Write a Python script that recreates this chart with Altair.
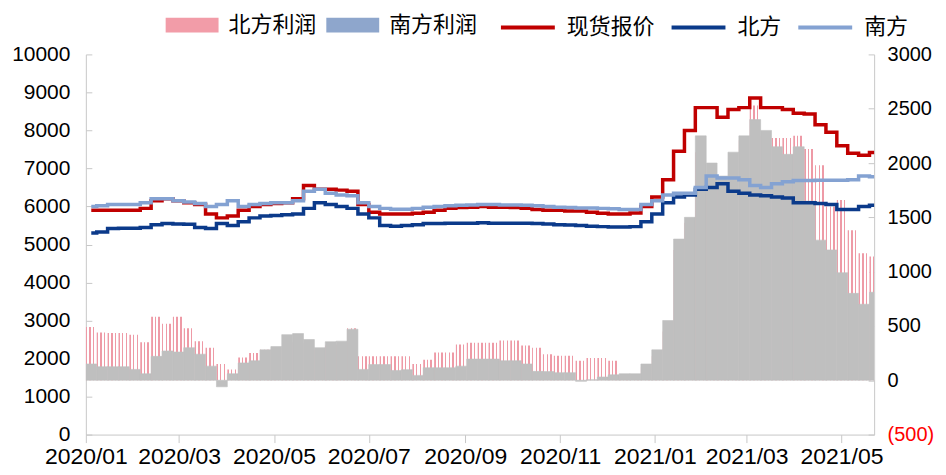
import altair as alt
import pandas as pd

# ---------------- data (weekly readings) ----------------
week_start = pd.date_range("2020-01-01", periods=73, freq="7D")

spot_price = [5900, 5900, 5900, 5900, 5900, 5950, 6150, 6200, 6150, 6100,
              6050, 5800, 5700, 5750, 5900, 6000, 6050, 6080, 6100, 6200,
              6550, 6450, 6450, 6430, 6400, 6050, 5850, 5800, 5800, 5800,
              5820, 5850, 5900, 5950, 5970, 5980, 6000, 5980, 5980, 5970,
              5950, 5920, 5900, 5900, 5880, 5880, 5850, 5820, 5800, 5800,
              5830, 6000, 6250, 6700, 7450, 8000, 8600, 8600, 8350, 8550,
              8600, 8850, 8600, 8600, 8550, 8450, 8430, 8150, 7950, 7600,
              7400, 7350, 7420]

north_price = [5300, 5330, 5420, 5430, 5430, 5450, 5520, 5550, 5540, 5530,
               5450, 5420, 5550, 5500, 5600, 5700, 5750, 5760, 5780, 5800,
               5950, 6100, 6050, 6000, 5950, 5800, 5700, 5500, 5480, 5500,
               5520, 5550, 5550, 5560, 5560, 5560, 5570, 5560, 5560, 5560,
               5560, 5550, 5540, 5520, 5510, 5500, 5480, 5470, 5460, 5460,
               5470, 5600, 5800, 6100, 6250, 6300, 6450, 6500, 6600, 6400,
               6350, 6300, 6280, 6250, 6220, 6100, 6100, 6080, 6050, 5920,
               5920, 6000, 6030]

south_price = [6000, 6020, 6050, 6050, 6050, 6100, 6200, 6200, 6150, 6120,
               6080, 6000, 6050, 6150, 6000, 6050, 6080, 6100, 6100, 6150,
               6400, 6450, 6350, 6300, 6280, 6100, 6000, 5950, 5930, 5930,
               5950, 5980, 6000, 6020, 6030, 6040, 6050, 6050, 6040, 6040,
               6030, 6020, 6000, 5980, 5970, 5960, 5960, 5950, 5940, 5920,
               5920, 6050, 6150, 6300, 6350, 6350, 6500, 6800, 6750, 6750,
               6700, 6550, 6500, 6600, 6650, 6680, 6680, 6690, 6690, 6690,
               6700, 6800, 6780]

north_profit = [490, 440, 435, 435, 420, 350, 585, 520, 585, 480,
                360, 300, 150, 100, 210, 250, 280, 290, 300, 350,
                340, 280, 320, 330, 480, 220, 220, 220, 220, 220,
                150, 190, 255, 255, 330, 345, 345, 345, 365, 365,
                320, 300, 240, 225, 225, 180, 205, 205, 180, 40,
                50, 120, 220, 450, 1200, 1450, 2100, 1900, 1800, 2050,
                2210, 2530, 2250, 2230, 2230, 2250, 2130, 1980, 1600, 1660,
                1380, 1170, 1140]

south_profit = [150, 125, 125, 125, 100, 60, 220, 270, 260, 300,
                240, 130, -60, 60, 160, 180, 280, 310, 420, 430,
                375, 300, 355, 360, 470, 100, 145, 145, 90, 98,
                45, 115, 115, 115, 130, 195, 195, 195, 180, 180,
                150, 82, 80, 70, 70, -10, 5, 30, 50, 60,
                60, 150, 280, 550, 1300, 1500, 2250, 2000, 1880, 2100,
                2250, 2400, 2300, 2150, 2080, 2150, 1650, 1290, 1200, 990,
                800, 700, 810]

bar_names = ["北方利润", "南方利润"]
line_names = ["现货报价", "北方", "南方"]
x_tick_months = [(2020, 1), (2020, 3), (2020, 5), (2020, 7), (2020, 9),
                 (2020, 11), (2021, 1), (2021, 3), (2021, 5)]
left_ticks = list(range(0, 10001, 1000))
right_ticks = list(range(-500, 3001, 500))

df = pd.DataFrame({
    "start": week_start,
    "end": week_start + pd.Timedelta(days=7),
    "mid": week_start + pd.Timedelta(hours=84),
    "现货报价": spot_price,
    "北方": north_price,
    "南方": south_price,
    "north_profit": north_profit,
    "south_profit": south_profit,
})

# ---------------- styling ----------------
NUM_FONT = "Liberation Sans"
CJK_FONT = "Noto Sans CJK SC"
AXIS_GRAY = "#C8C8C8"
PINK = "#EE9AA6"
LEGEND_PINK = "#F29CA8"
LEGEND_BLUE = "#8EA6CC"
GRAY = "#BFBFBF"
LINE_COLORS = ["#C00000", "#0B3A8A", "#84A2D2"]

pink_stripes = {
    "gradient": "linear", "x1": 0, "x2": 1, "y1": 0, "y2": 0,
    "stops": [
        {"offset": 0.0, "color": PINK}, {"offset": 0.13, "color": PINK},
        {"offset": 0.13, "color": "#FFFFFF"}, {"offset": 0.33, "color": "#FFFFFF"},
        {"offset": 0.33, "color": PINK}, {"offset": 0.46, "color": PINK},
        {"offset": 0.46, "color": "#FFFFFF"}, {"offset": 0.66, "color": "#FFFFFF"},
        {"offset": 0.66, "color": PINK}, {"offset": 0.79, "color": PINK},
        {"offset": 0.79, "color": "#FFFFFF"}, {"offset": 1.0, "color": "#FFFFFF"},
    ],
}

x_scale = alt.Scale(domain=[alt.DateTime(year=2020, month=1, date=1),
                            alt.DateTime(year=2021, month=5, date=22)])
x_axis = alt.Axis(
    values=[alt.DateTime(year=y, month=m, date=1) for y, m in x_tick_months],
    format="%Y/%m", labelFont=NUM_FONT, labelFontSize=23, labelColor="#000000",
    tickSize=8, tickColor=AXIS_GRAY, domainColor=AXIS_GRAY, labelPadding=3,
    labelOverlap=False, labelFlush=False, grid=False, title=None,
)

right_axis = alt.Axis(
    orient="right", values=right_ticks, grid=False, title=None,
    labelExpr="datum.value < 0 ? '(' + format(-datum.value, 'd') + ')' : format(datum.value, 'd')",
    labelColor={"condition": {"test": "datum.value < 0", "value": "#FF0000"}, "value": "#000000"},
    labelFont=NUM_FONT, labelFontSize=20, labelPadding=19,
    tickSize={"expr": "-6"}, tickColor=AXIS_GRAY, domainColor=AXIS_GRAY,
)
left_axis = alt.Axis(
    orient="left", values=left_ticks, format="d", grid=False, title=None,
    labelFont=NUM_FONT, labelFontSize=21, labelColor="#000000", labelPadding=22,
    tickSize={"expr": "-6"}, tickColor=AXIS_GRAY, domainColor=AXIS_GRAY,
)

y_right = alt.Scale(domain=[-500, 3000])

north_bars = alt.Chart(df).mark_bar(fill=pink_stripes, clip=True).encode(
    x=alt.X("start:T", scale=x_scale, axis=x_axis),
    x2="end:T",
    y=alt.Y("north_profit:Q", scale=y_right, axis=right_axis),
    y2=alt.datum(0),
)
south_bars = alt.Chart(df).mark_bar(
    fill=GRAY, stroke=GRAY, strokeWidth=0.6, clip=True
).encode(
    x=alt.X("start:T", scale=x_scale, axis=x_axis),
    x2="end:T",
    y=alt.Y("south_profit:Q", scale=y_right, axis=right_axis),
    y2=alt.datum(0),
)
bar_legend = alt.Chart(df).transform_calculate(
    label="'北方利润'"
).transform_filter("false").mark_bar().encode(
    fill=alt.Fill(
        "label:N",
        scale=alt.Scale(domain=bar_names, range=[LEGEND_PINK, LEGEND_BLUE]),
        legend=alt.Legend(
            orient="none", legendX=80, legendY=-56, direction="horizontal",
            title=None, symbolType="M-1,-0.28H1V0.28H-1Z", symbolSize=2809,
            symbolStrokeWidth=0, labelFont=CJK_FONT, labelFontSize=22,
            labelColor="#000000", labelOffset=10, columnPadding=9, padding=0,
        ),
    )
)

bars = alt.layer(north_bars, south_bars, bar_legend)

lines = alt.Chart(df).transform_fold(
    line_names, as_=["series", "value"]
).mark_line(strokeWidth=3.5, interpolate="step", clip=True).encode(
    x=alt.X("mid:T", scale=x_scale, axis=x_axis),
    y=alt.Y("value:Q", scale=alt.Scale(domain=[0, 10000]), axis=left_axis),
    stroke=alt.Stroke(
        "series:N",
        scale=alt.Scale(domain=line_names, range=LINE_COLORS),
        sort=line_names,
        legend=alt.Legend(
            orient="none", legendX=414, legendY=-56, direction="horizontal",
            title=None, symbolType="stroke", symbolSize=2916,
            symbolStrokeWidth=4, labelFont=CJK_FONT, labelFontSize=22,
            labelColor="#000000", labelOffset=10, columnPadding=8, padding=0,
        ),
    ),
)

chart = alt.layer(bars, lines).resolve_scale(y="independent").properties(
    width=790, height=381,
    autosize=alt.AutoSizeParams(type="none"),
    padding={"left": 78, "top": 46, "right": 64, "bottom": 38},
).configure_view(stroke=None)

chart.save("out.html", embed_options={"renderer": "svg", "actions": False})
